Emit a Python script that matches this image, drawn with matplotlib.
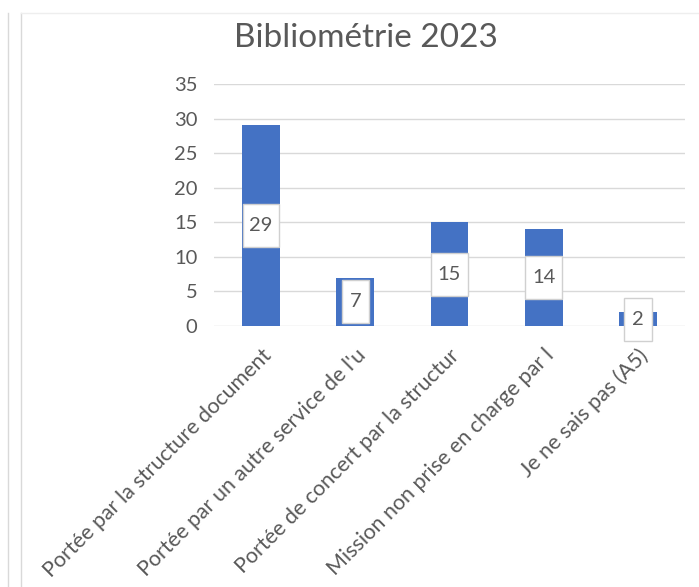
import matplotlib.pyplot as plt
from matplotlib.lines import Line2D
from matplotlib.patches import Rectangle

categories = [
    "Portée par la structure document",
    "Portée par un autre service de l'u",
    "Portée de concert par la structur",
    "Mission non prise en charge par l",
    "Je ne sais pas (A5)",
]
values = [29, 7, 15, 14, 2]
yticks = [0, 5, 10, 15, 20, 25, 30, 35]

plt.rcParams['font.family'] = ['Lato', 'DejaVu Sans']

fig = plt.figure(figsize=(6.99, 5.87), dpi=100)
ax = fig.add_axes([214 / 699, 1 - 326 / 587, 471 / 699, 242 / 587])

blue = '#4472C4'
grey = '#595959'
x = range(len(values))
ax.bar(x, values, width=0.40, color=blue, zorder=2)

# data labels: white boxes centred on each bar
for xi, v in zip(x, values):
    w = 0.29 if v < 10 else 0.39
    h = 6.2
    ax.add_patch(Rectangle((xi - w / 2, v / 2 - h / 2), w, h, fc='white',
                           ec='#D0D0D0', lw=1, zorder=3, clip_on=False))
    ax.text(xi, v / 2, str(v), ha='center', va='center', fontsize=14.5,
            color=grey, zorder=4)

ax.set_xlim(-0.5, len(values) - 0.5)
ax.set_ylim(0, 35)
ax.set_yticks(yticks)
ax.yaxis.grid(True, color='#D9D9D9', lw=1, zorder=0)
ax.set_axisbelow(True)
for s in ax.spines.values():
    s.set_visible(False)
ax.tick_params(axis='both', length=0, colors=grey, labelsize=14.5)
ax.tick_params(axis='y', pad=12)
ax.set_xticks(list(x))
ax.set_xticklabels(categories, rotation=45, ha='right', va='top',
                   rotation_mode='anchor', fontsize=15.5, color=grey)
ax.tick_params(axis='x', pad=14)

fig.text(366 / 699, 1 - 38 / 587, 'Bibliométrie 2023', ha='center', va='center',
         fontsize=24, color=grey)

# frame lines of the screenshot
fig.add_artist(Line2D([8 / 699, 8 / 699], [0, 1 - 13 / 587], color='#D9D9D9', lw=1))
fig.add_artist(Line2D([21 / 699, 21 / 699], [0, 1 - 13 / 587], color='#D9D9D9', lw=1))
fig.add_artist(Line2D([21 / 699, 1], [1 - 13 / 587, 1 - 13 / 587], color='#EEEEEE', lw=1))

fig.savefig('out.png', dpi=100)
